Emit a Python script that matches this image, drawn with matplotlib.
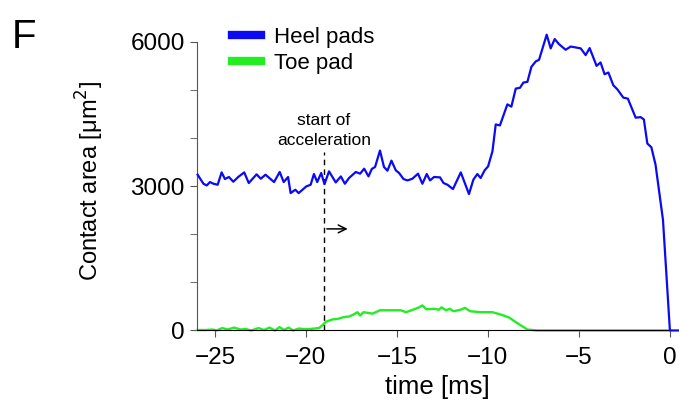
import matplotlib
matplotlib.use('Agg')
import matplotlib.pyplot as plt

plt.rcParams['font.family'] = ['Liberation Sans', 'DejaVu Sans']

# heel pads (blue)
heel_t = [-25.95, -25.63, -25.45, -25.27, -25.08, -24.85, -24.63, -24.45, -24.23, -23.99,
          -23.72, -23.39, -23.14, -22.71, -22.48, -22.22, -21.75, -21.44, -21.22, -20.98,
          -20.84, -20.58, -20.40, -19.98, -19.74, -19.56, -19.38, -19.16, -18.98,
          -18.73, -18.36, -18.08, -17.86, -17.63, -17.26, -17.02, -16.80, -16.56,
          -16.38, -16.20, -15.93, -15.71, -15.52, -15.30, -15.06, -14.88, -14.64, -14.42,
          -14.15, -13.84, -13.60, -13.36, -13.18, -12.96, -12.63, -12.44, -12.22, -11.92,
          -11.49, -11.04, -10.80, -10.58, -10.40, -10.18, -9.99, -9.75, -9.57, -9.34,
          -8.93, -8.71, -8.47, -8.24, -8.05, -7.83, -7.61, -7.37, -7.19, -6.77,
          -6.55, -6.33, -6.10, -5.73, -5.45, -4.90, -4.63, -4.41, -4.03, -3.81,
          -3.59, -3.38, -3.11, -2.89, -2.56, -2.31, -1.88, -1.61, -1.43, -1.24,
          -1.02, -0.79, -0.38, 0.0, 0.5]
heel_a = [3236, 3048, 3013, 3083, 3048, 3027, 3284, 3146, 3188, 3090,
          3188, 3284, 3063, 3243, 3152, 3236, 3083, 3292, 3083, 3188,
          2854, 2923, 2854, 2992, 3027, 3250, 3083, 3271, 3040,
          3305, 3075, 3200, 3048, 3167, 3292, 3257, 3361, 3201,
          3355, 3396, 3737, 3396, 3319, 3528, 3326, 3271, 3146, 3117,
          3152, 3257, 3048, 3250, 3117, 3188, 3180, 3063, 3027, 2937,
          3284, 2833, 3132, 3250, 3167, 3326, 3409, 3722, 4280, 4259,
          4697, 4649, 5025, 5040, 5150, 5164, 5477, 5589, 5622, 6144,
          5860, 6054, 5950, 5831, 5898, 5860, 5720, 5866, 5497, 5567,
          5323, 5358, 5094, 5010, 4837, 4816, 4420, 4432, 4384, 3883,
          3806, 3445, 2296, 0, 0]

# toe pad (green)
toe_t = [-25.95, -25.5, -25.13, -24.9, -24.6, -24.3, -23.95, -23.6, -23.3, -23.0,
         -22.6, -22.3, -22.0, -21.7, -21.45, -21.2, -20.95, -20.7, -20.4, -20.1,
         -19.8, -19.28, -19.06, -18.91, -18.54, -18.26, -17.90, -17.63, -17.39, -17.17,
         -17.02, -16.84, -16.34, -15.93, -14.79, -14.5, -14.2, -13.84, -13.60, -13.38,
         -12.9, -12.7, -12.55, -12.3, -12.1, -11.89, -11.5, -11.26, -10.98, -10.40,
         -9.75, -9.20, -8.84, -8.57, -8.29, -7.83, -7.28, 0.0]
toe_a = [10, 10, 20, 0, 50, 20, 60, 20, 30, 0,
         50, 10, 60, 0, 70, 10, 60, 0, 40, 30,
         30, 50, 120, 180, 230, 240, 280, 290, 330, 380,
         310, 380, 350, 420, 420, 380, 420, 470, 520, 440,
         450, 430, 480, 420, 450, 400, 430, 470, 400, 380,
         380, 320, 270, 200, 130, 20, 0, 0]

accel_t = -19.0

fig = plt.figure(figsize=(6.79, 4.05), dpi=100)
ax = fig.add_axes([0.2897, 0.184, 0.7103, 0.737])

ax.plot(heel_t, heel_a, color='#0a0af5', lw=1.6, label='Heel pads', clip_on=False, zorder=3)
ax.plot(toe_t, toe_a, color='#22ee22', lw=1.7, label='Toe pad', clip_on=False, zorder=2)

ax.plot([accel_t, accel_t], [0, 3700], color='black', lw=1, ls=(0, (4, 3)))
ax.annotate('', xy=(accel_t + 1.45, 2110), xytext=(accel_t, 2110),
            arrowprops=dict(arrowstyle='->', color='black', lw=1.1, mutation_scale=14))
ax.text(accel_t, 3800, 'start of\nacceleration', ha='center', va='bottom',
        fontsize=12.5, linespacing=1.35)

ax.set_xlim(-26, 0.5)
ax.set_ylim(0, 6200)
ax.set_xticks([-25, -20, -15, -10, -5, 0])
ax.set_yticks([0, 3000, 6000])
ax.set_yticks([1000, 2000, 4000, 5000], minor=True)
ax.tick_params(axis='both', which='major', labelsize=17.5, length=5, color='#555555')
ax.tick_params(axis='x', which='major', pad=7)
ax.tick_params(axis='y', which='minor', length=5, color='#555555')
ax.spines['top'].set_visible(False)
ax.spines['right'].set_visible(False)
ax.spines['left'].set_bounds(0, 6000)
ax.spines['left'].set_color('#555555')
ax.spines['bottom'].set_bounds(-26, 0)

ax.set_xlabel('time [ms]', fontsize=18.5, labelpad=4)
ax.set_ylabel('Contact area [μm$^2$]', fontsize=17, labelpad=18)

leg = ax.legend(loc='upper left', bbox_to_anchor=(0.325, 0.962), bbox_transform=fig.transFigure,
                frameon=False, fontsize=16, handlelength=1.3, handletextpad=0.6,
                borderpad=0, labelspacing=0.25)
for line in leg.get_lines():
    line.set_linewidth(6)

fig.text(0.018, 0.955, 'F', fontsize=29, va='top', ha='left')

fig.savefig('out.png', dpi=100)
